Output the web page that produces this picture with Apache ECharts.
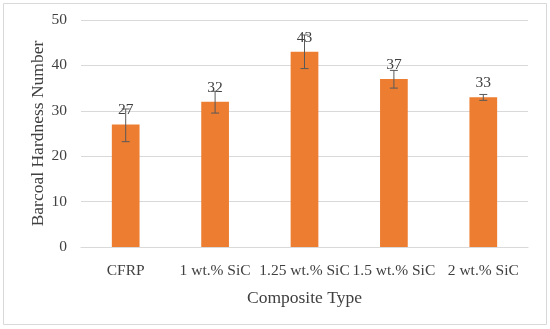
<!DOCTYPE html>
<html>
<head>
<meta charset="utf-8">
<script src="https://cdn.jsdelivr.net/npm/echarts@6/dist/echarts.min.js"></script>
<style>
  html, body { margin: 0; padding: 0; background: #fff; }
  #main { width: 550px; height: 329px; }
</style>
</head>
<body>
<div id="main"></div>
<script>
  var categories = ['CFRP', '1 wt.% SiC', '1.25 wt.% SiC', '1.5 wt.% SiC', '2 wt.% SiC'];
  var hardness = [27, 32, 43, 37, 33];
  var errLow = [3.8, 2.5, 3.7, 2.0, 0.7];
  var errHigh = [3.4, 2.3, 3.7, 1.9, 0.6];
  var yTicks = [0, 10, 20, 30, 40, 50];

  var chart = echarts.init(document.getElementById('main'));
  var font = 'Liberation Serif';

  // error bar data: [index, low, high]
  var errData = hardness.map(function (v, i) {
    return [i, v - errLow[i], v + errHigh[i]];
  });

  var option = {
    animation: false,
    textStyle: { fontFamily: font },
    graphic: [{
      type: 'rect',
      shape: { x: 3.5, y: 3.5, width: 543, height: 321 },
      style: { fill: 'none', stroke: '#d9d9d9', lineWidth: 1 }
    }],
    grid: { left: 81, right: 22, top: 20, bottom: 82 },
    xAxis: {
      type: 'category',
      data: categories,
      name: 'Composite Type',
      nameLocation: 'middle',
      nameGap: 42,
      nameMoveOverlap: false,
      nameTextStyle: { fontSize: 17.5, color: '#404040', fontFamily: font },
      axisLine: { show: true, lineStyle: { color: '#d9d9d9' } },
      axisTick: { show: false },
      axisLabel: { fontSize: 15.5, color: '#404040', margin: 16, interval: 0, fontFamily: font }
    },
    yAxis: {
      type: 'value',
      min: yTicks[0],
      max: yTicks[yTicks.length - 1],
      interval: 10,
      name: 'Barcoal Hardness Number',
      nameLocation: 'middle',
      nameGap: 34,
      nameMoveOverlap: false,
      nameTextStyle: { fontSize: 17.5, color: '#404040', fontFamily: font },
      axisLine: { show: false },
      axisTick: { show: false },
      splitLine: { lineStyle: { color: '#d9d9d9' } },
      axisLabel: { fontSize: 15.5, color: '#404040', margin: 14, fontFamily: font }
    },
    series: [{
      type: 'bar',
      data: hardness,
      barWidth: '31%',
      itemStyle: { color: '#ed7d31' },
      label: {
        show: true,
        position: 'top',
        distance: 6,
        fontSize: 15.5,
        color: '#404040',
        fontFamily: font
      },
      z: 2
    }, {
      type: 'custom',
      data: errData,
      z: 3,
      renderItem: function (params, api) {
        var lo = api.coord([api.value(0), api.value(1)]);
        var hi = api.coord([api.value(0), api.value(2)]);
        var cap = 4;
        var st = { stroke: '#595959', lineWidth: 1 };
        return {
          type: 'group',
          children: [
            { type: 'line', shape: { x1: hi[0], y1: hi[1], x2: lo[0], y2: lo[1] }, style: st },
            { type: 'line', shape: { x1: hi[0] - cap, y1: hi[1], x2: hi[0] + cap, y2: hi[1] }, style: st },
            { type: 'line', shape: { x1: lo[0] - cap, y1: lo[1], x2: lo[0] + cap, y2: lo[1] }, style: st }
          ]
        };
      }
    }]
  };

  chart.setOption(option);
</script>
</body>
</html>
